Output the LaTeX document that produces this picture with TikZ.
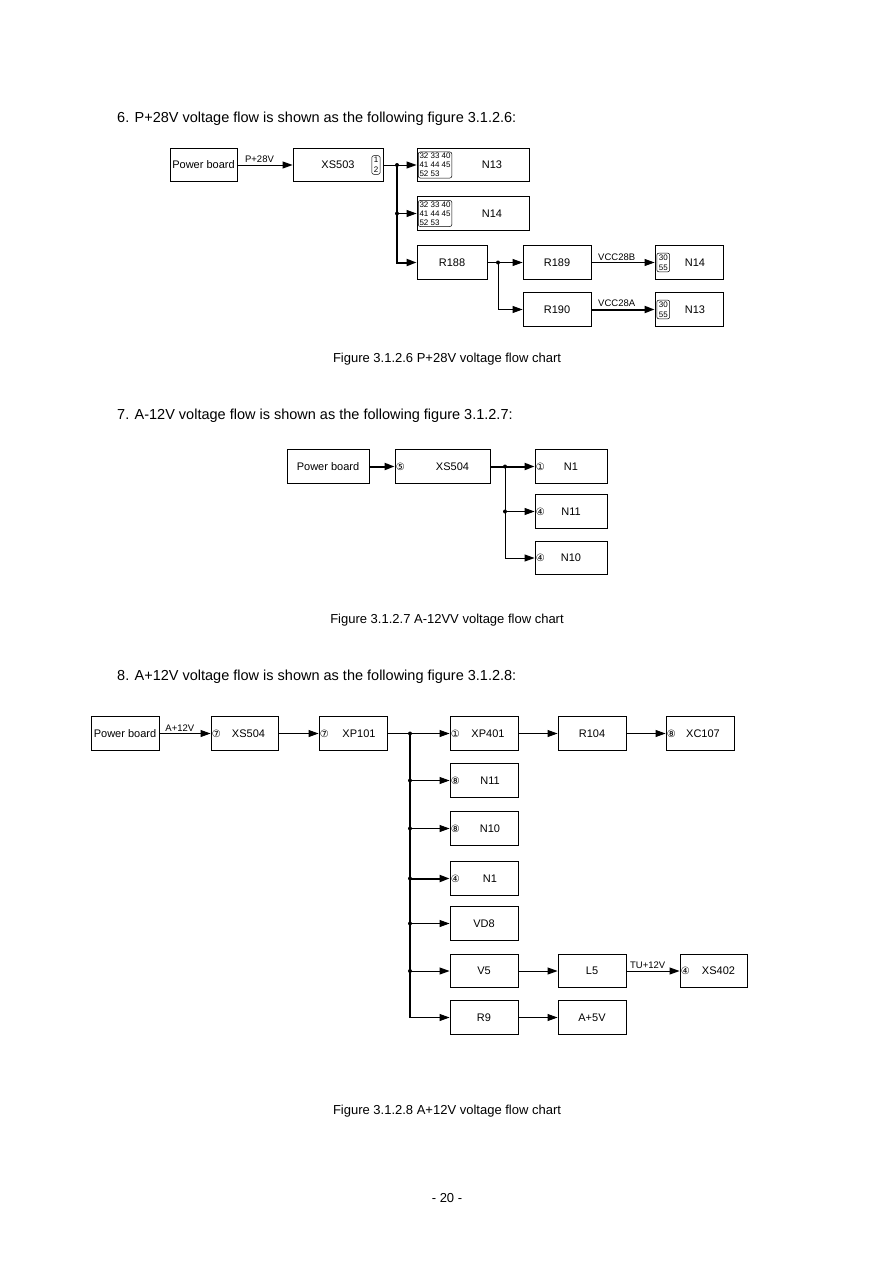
\documentclass[tikz,border=0pt]{standalone}
\usepackage{fontspec}
\setmainfont{Liberation Sans}
\newfontfamily\symf{DejaVu Sans}
\usetikzlibrary{arrows.meta}
\begin{document}
\begin{tikzpicture}[x=1pt,y=-1pt,
 box/.style={draw,line width=0.9pt,minimum height=33.5pt,inner sep=0pt,font=\fontsize{11}{13}\selectfont},
 conn/.style={line width=0.9pt,-{Triangle[length=10pt,width=7pt]}},
 heavy/.style={line width=2pt,-{Triangle[length=10pt,width=7pt]}},
 wire/.style={line width=0.9pt},
 trunk/.style={line width=2pt},
 dot/.style={circle,fill,inner sep=0pt,minimum size=4pt},
 lbl/.style={font=\fontsize{9.5}{10}\selectfont,inner sep=1.5pt},
 circ/.style={font=\symf\fontsize{10}{11}\selectfont,inner sep=1pt},
 pins/.style={draw,rounded corners=2pt,line width=0.5pt,font=\fontsize{8}{9}\selectfont,inner sep=1.2pt,align=left},
 pin2/.style={draw,rounded corners=2pt,line width=0.5pt,font=\fontsize{8}{10}\selectfont,inner xsep=2pt,inner ysep=1.5pt,align=center},
 head/.style={font=\fontsize{14.5}{17}\selectfont,anchor=base west,inner sep=0pt},
 figcap/.style={font=\fontsize{13}{15}\selectfont,anchor=base,inner sep=0pt}
]
\useasboundingbox (0,0) rectangle (894,1263);

% ---------- Figure 3.1.2.6 ----------
\node[head] (h6) at (117,122) {6. P+28V voltage flow is shown as the following figure 3.1.2.6:};
\node[box,minimum width=67pt] (pb1) at (203.5,165) {Power board};
\node[box,minimum width=90pt,label={[pin2,anchor=east,xshift=-3pt]east:{1\\2}}] (xs503) at (338,165) {XS503};
\node[box,minimum width=112pt,label={[pins,anchor=west,xshift=1.5pt]west:{32 33 40\\41 44 45\\52 53}}] (n13a) at (473,165) {\hspace*{38pt}N13};
\node[box,minimum width=112pt,label={[pins,anchor=west,xshift=1.5pt]west:{32 33 40\\41 44 45\\52 53}}] (n14a) at (473,213.5) {\hspace*{38pt}N14};
\node[box,minimum width=70pt] (r188) at (452,262.5) {R188};
\node[box,minimum width=68pt] (r189) at (557,262.5) {R189};
\node[box,minimum width=68pt] (r190) at (557,309.5) {R190};
\node[box,minimum width=68pt,label={[pin2,anchor=west,xshift=2pt]west:{30\\55}}] (n14b) at (689,262.5) {\hspace*{12pt}N14};
\node[box,minimum width=68pt,label={[pin2,anchor=west,xshift=2pt]west:{30\\55}}] (n13b) at (689,309.5) {\hspace*{12pt}N13};
\coordinate (j1) at (397,165);
\coordinate (j2) at (397,213.5);
\coordinate (j3) at (498,262.5);
\draw[conn] (pb1) -- node[lbl,above,pos=0.4]{P+28V} (xs503);
\draw[conn] (xs503) -- (n13a);
\draw[conn] (j2) -- (n14a);
\draw[heavy] (j1) |- (r188);
\draw[conn] (r188) -- (r189);
\draw[conn] (j3) |- (r190);
\draw[conn] (r189) -- node[lbl,above,pos=0.4]{VCC28B} (n14b);
\draw[heavy] (r190) -- node[lbl,above,pos=0.4]{VCC28A} (n13b);
\node[dot] at (j1) {};
\node[dot] at (j2) {};
\node[dot] at (j3) {};
\node[figcap] (c6) at (447,362) {Figure 3.1.2.6 P+28V voltage flow chart};

% ---------- Figure 3.1.2.7 ----------
\node[head] (h7) at (117,419) {7. A-12V voltage flow is shown as the following figure 3.1.2.7:};
\node[box,minimum width=82pt] (pb2) at (328,466.5) {Power board};
\node[box,minimum width=95pt,label={[circ,anchor=west]west:⑤}] (xs504m) at (442.5,466.5) {\hspace*{20pt}XS504};
\node[box,minimum width=72pt,label={[circ,anchor=west]west:①}] (n1m) at (571,466.5) {N1};
\node[box,minimum width=72pt,label={[circ,anchor=west]west:④}] (n11m) at (571,511.5) {N11};
\node[box,minimum width=72pt,label={[circ,anchor=west]west:④}] (n10m) at (571,558) {N10};
\coordinate (j4) at (505,466.5);
\coordinate (j5) at (505,511.5);
\draw[heavy] (pb2) -- (xs504m);
\draw[heavy] (xs504m) -- (n1m);
\draw[conn] (j5) -- (n11m);
\draw[conn] (j4) |- (n10m);
\node[dot] at (j4) {};
\node[dot] at (j5) {};
\node[figcap] (c7) at (447,623) {Figure 3.1.2.7 A-12VV voltage flow chart};

% ---------- Figure 3.1.2.8 ----------
\node[head] (h8) at (117,680) {8. A+12V voltage flow is shown as the following figure 3.1.2.8:};
\node[box,minimum width=68pt] (pb3) at (125,733.5) {Power board};
\node[box,minimum width=67pt,label={[circ,anchor=west]west:⑦}] (xs504b) at (244.5,733.5) {\hspace*{8pt}XS504};
\node[box,minimum width=68pt,label={[circ,anchor=west]west:⑦}] (xp101) at (353,733.5) {\hspace*{12pt}XP101};
\node[box,minimum width=68pt,label={[circ,anchor=west]west:①}] (xp401) at (484,733.5) {\hspace*{8pt}XP401};
\node[box,minimum width=68pt] (r104) at (592,733.5) {R104};
\node[box,minimum width=68pt,label={[circ,anchor=west]west:⑧}] (xc107) at (700,733.5) {\hspace*{6pt}XC107};
\node[box,minimum width=68pt,label={[circ,anchor=west]west:⑧}] (n11b) at (484,780.5) {\hspace*{12pt}N11};
\node[box,minimum width=68pt,label={[circ,anchor=west]west:⑧}] (n10b) at (484,828.5) {\hspace*{12pt}N10};
\node[box,minimum width=68pt,label={[circ,anchor=west]west:④}] (n1b) at (484,878.5) {\hspace*{12pt}N1};
\node[box,minimum width=68pt] (vd8) at (484,923.5) {VD8};
\node[box,minimum width=68pt] (v5) at (484,971) {V5};
\node[box,minimum width=68pt] (l5) at (592,971) {L5};
\node[box,minimum width=67pt,label={[circ,anchor=west]west:④}] (xs402) at (713.5,971) {\hspace*{10pt}XS402};
\node[box,minimum width=68pt] (r9) at (484,1017.5) {R9};
\node[box,minimum width=68pt] (a5) at (592,1017.5) {A+5V};
\coordinate (j6) at (410,733.5);
\coordinate (j7) at (410,780.5);
\coordinate (j8) at (410,828.5);
\coordinate (j9) at (410,878.5);
\coordinate (j10) at (410,923.5);
\coordinate (j11) at (410,971);
\coordinate (j12) at (410,1017.5);
\draw[conn] (pb3) -- node[lbl,above,pos=0.4]{A+12V} (xs504b);
\draw[conn] (xs504b) -- (xp101);
\draw[wire] (xp101) -- (j6);
\draw[trunk] (j6) -- (j12);
\draw[conn] (j12) -- (r9);
\draw[conn] (j6) -- (xp401);
\draw[conn] (j7) -- (n11b);
\draw[conn] (j8) -- (n10b);
\draw[heavy] (j9) -- (n1b);
\draw[conn] (j10) -- (vd8);
\draw[conn] (j11) -- (v5);
\draw[conn] (xp401) -- (r104);
\draw[conn] (r104) -- (xc107);
\draw[conn] (v5) -- (l5);
\draw[conn] (l5) -- node[lbl,above,pos=0.4]{TU+12V} (xs402);
\draw[conn] (r9) -- (a5);
\foreach \j in {j6,j7,j8,j9,j10,j11} \node[dot] at (\j) {};
\node[figcap] (c8) at (447,1114) {Figure 3.1.2.8 A+12V voltage flow chart};
\node[figcap] (pg) at (447,1202) {- 20 -};
\end{tikzpicture}
\end{document}
